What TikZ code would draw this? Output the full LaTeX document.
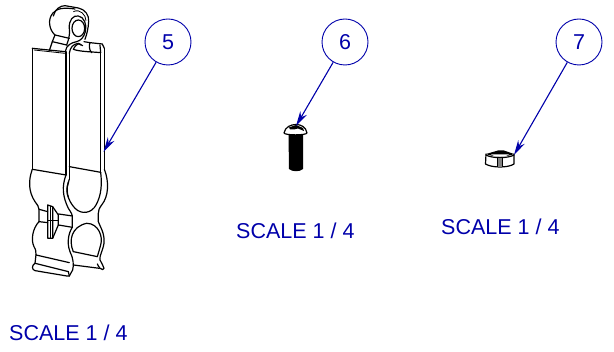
\documentclass[tikz,border=0pt]{standalone}
\usepackage{fontspec}
\setmainfont{Liberation Sans}
\usetikzlibrary{arrows.meta}
\definecolor{callout}{RGB}{0,0,170}
\tikzset{
  balloon/.style={circle,draw=callout,line width=0.9pt,minimum size=46pt,inner sep=0pt,text=callout,font=\fontsize{21.5}{23}\selectfont},
  scaletext/.style={text=callout,anchor=base west,inner sep=0pt,font=\fontsize{21.5}{23}\selectfont},
  leader/.style={draw=callout,line width=1.1pt,-{Stealth[length=15pt,width=7.5pt]}},
  part/.style={draw=black,line width=1.2pt,line join=round,line cap=round},
  thin part/.style={draw=black,line width=0.8pt,line join=round}
}
\begin{document}
\begin{tikzpicture}[x=1pt,y=-1pt]
\useasboundingbox (0,0) rectangle (614,352);
% clip, in 3x units
\begin{scope}[shift={(10,0)},x=0.3333pt,y=-0.3333pt]
% barrel
\draw[part] (118,152) -- (127,125) -- (135,105) .. controls (118,90) and (112,60) .. (128,40) .. controls (140,25) and (160,22) .. (195,27);
\draw[part] (130,48) .. controls (135,28) and (150,17) .. (165,17) -- (205,24) .. controls (225,28) and (238,45) .. (236,65) .. controls (235,85) and (230,105) .. (225,118);
\draw[thin part] (190,35) .. controls (210,25) and (228,45) .. (228,62);
\draw[part] (135,105) -- (178,115);
\draw[part] (127,125) -- (170,135);
% eye
\draw[part] (170,135) .. controls (175,120) and (180,110) .. (178,85) .. controls (176,60) and (190,45) .. (205,48) .. controls (222,50) and (232,75) .. (226,95) .. controls (222,112) and (212,122) .. (200,125) .. controls (185,128) and (168,135) .. (166,155);
\draw[part] (205,85) ellipse (19 and 25);
\draw[part] (178,160) .. controls (180,142) and (190,132) .. (205,130) -- (218,137);
\draw[part] (190,148) .. controls (200,128) and (210,130) .. (212,135);
% upper right curl
\draw[part] (222,125) -- (240,128) -- (277,132) -- (283,145);
\draw[part] (240,128) .. controls (236,138) and (238,150) .. (245,158);
\draw[part] (190,148) .. controls (210,155) and (240,155) .. (272,158);
\draw[part] (270,135) -- (272,158);
% left panel
\draw[part] (67,145) -- (165,155);
\draw[thin part] (72,150) -- (165,160);
\draw[part] (67,145) -- (67,508);
\draw[part] (168,155) -- (168,525);
\draw[part] (178,160) -- (178,538);
\draw[part] (272,158) -- (272,517);
\draw[part] (283,145) -- (283,508);
% band lines
\draw[part] (67,508) -- (168,525);
\draw[part] (178,500) -- (272,517);
% left lobe
\draw[part] (67,508) .. controls (55,540) and (55,575) .. (75,605) .. controls (82,615) and (87,620) .. (87,628) -- (87,665) .. controls (68,685) and (62,720) .. (72,740) .. controls (78,750) and (78,755) .. (78,765);
% middle edge
\draw[part] (168,525) .. controls (155,560) and (158,590) .. (175,625) .. controls (185,640) and (187,645) .. (187,648) -- (187,682) .. controls (175,700) and (170,730) .. (180,755) .. controls (190,775) and (192,795) .. (188,810) -- (178,828);
\draw[part] (178,538) .. controls (165,570) and (172,600) .. (195,625) .. controls (215,645) and (245,640) .. (258,615) .. controls (275,585) and (276,550) .. (272,517);
\draw[part] (176,545) .. controls (168,565) and (170,580) .. (175,592);
% right outer
\draw[part] (283,508) .. controls (298,545) and (296,590) .. (275,615) .. controls (268,625) and (265,630) .. (265,640) -- (265,665) .. controls (270,680) and (285,700) .. (282,730) .. controls (278,755) and (268,765) .. (270,780) .. controls (272,790) and (282,795) .. (282,805) .. controls (282,810) and (275,810) .. (270,805) .. controls (265,800) and (264,795) .. (262,792);
% lower window
\draw[part] (190,755) .. controls (175,720) and (185,680) .. (230,670) .. controls (265,670) and (280,710) .. (272,735) .. controls (268,750) and (265,760) .. (262,770);
\draw[part] (190,755) -- (262,770);
\draw[part] (190,795) -- (268,805);
% bottom lip
\draw[part] (78,765) -- (178,788);
\draw[part] (78,765) -- (75,790) -- (175,815);
\draw[part] (75,790) .. controls (65,795) and (65,810) .. (75,812) -- (170,828) -- (178,828);
\draw[part] (175,815) -- (178,828);
% tab
\draw[part] (87,628) -- (113,635);
\draw[part] (87,665) -- (113,668);
\draw[part] (113,615) -- (128,620) -- (128,715) -- (113,715) -- cycle;
\draw[part] (128,620) -- (145,645) -- (145,675) -- (128,715);
\draw[thin part] (113,660) -- (145,660);
\draw[thin part] (122,617) -- (122,715);
\draw[part] (145,642) -- (187,648);
\draw[part] (145,675) -- (187,682);
\end{scope}
% screw
\draw[part,fill=white] (284,133) .. controls (285,127) and (291,124.5) .. (296,124.5) .. controls (301,124.5) and (306,127) .. (307,133) .. controls (306,135.5) and (285,135.5) .. (284,133) -- cycle;
\fill[black] (289,127.5) -- (296,125) -- (303,128) -- (304,131) -- (298,128.5) -- (294,129.5) -- (290,129.5) -- cycle;
\fill[black] (288.5,135) -- (303,135) -- (303,169) .. controls (300,172) and (292,172) .. (289,169) -- cycle;
% nut
\draw[part,fill=white] (486,154) -- (485.5,164) .. controls (492,168) and (508,168) .. (514,164) -- (514,154);
\draw[part] (486,155) .. controls (492,158.5) and (508,158.5) .. (514,155);
\fill[black] (486,154) -- (498,150.5) -- (504,150.5) -- (514,154) .. controls (508,157) and (492,157) .. (486,154) -- cycle;
\fill[white] (491,154.5) -- (509,154.5) -- (506,156) -- (494,156) -- cycle;
\fill[gray] (498,158) rectangle (502,167);
\draw[line width=0.7pt] (497.5,158) -- (497.5,167) (502.5,158) -- (502.5,167);
% balloons and leaders
\node[balloon] (b5) at (168,42) {5};
\node[balloon] (b6) at (345,42) {6};
\node[balloon] (b7) at (579,42) {7};
\coordinate (t5) at (103.5,152);
\coordinate (t6) at (296,126);
\coordinate (t7) at (514,155);
\draw[leader] (b5) -- (t5);
\draw[leader] (b6) -- (t6);
\draw[leader] (b7) -- (t7);
% scale labels
\node[scaletext] (s5) at (9,341) {SCALE 1 / 4};
\node[scaletext] (s6) at (236,239) {SCALE 1 / 4};
\node[scaletext] (s7) at (441,235) {SCALE 1 / 4};
\end{tikzpicture}
\end{document}
